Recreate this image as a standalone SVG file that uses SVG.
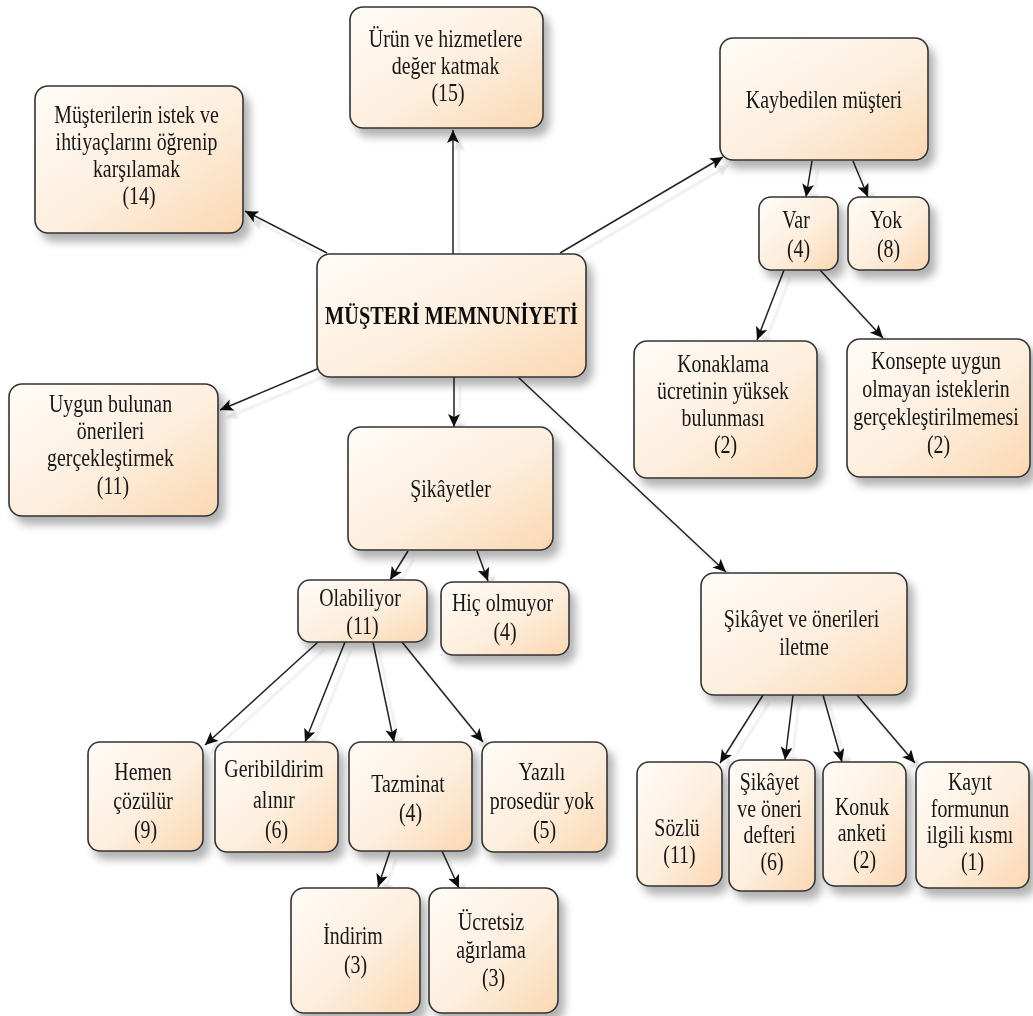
<svg xmlns="http://www.w3.org/2000/svg" width="1033" height="1016" viewBox="0 0 1033 1016">
  <defs>
    <linearGradient id="boxFill" x1="0" y1="0" x2="1" y2="1">
      <stop offset="0" stop-color="#fffcf8"/>
      <stop offset="0.55" stop-color="#fdeedd"/>
      <stop offset="1" stop-color="#fbd7b2"/>
    </linearGradient>
    <filter id="boxShadow" x="-10%" y="-10%" width="130%" height="140%">
      <feGaussianBlur in="SourceAlpha" stdDeviation="4.5"/>
      <feOffset dx="6" dy="8" result="blur"/>
      <feFlood flood-color="#000" flood-opacity="0.3"/>
      <feComposite in2="blur" operator="in"/>
      <feMerge>
        <feMergeNode/>
        <feMergeNode in="SourceGraphic"/>
      </feMerge>
    </filter>
    <filter id="lineShadow" x="-20%" y="-20%" width="140%" height="140%">
      <feOffset in="SourceAlpha" dx="6" dy="8"/>
      <feGaussianBlur stdDeviation="1"/>
      <feComponentTransfer result="sh">
        <feFuncA type="linear" slope="0.12"/>
      </feComponentTransfer>
      <feMerge>
        <feMergeNode in="sh"/>
        <feMergeNode in="SourceGraphic"/>
      </feMerge>
    </filter>
    <marker id="arrow" markerUnits="userSpaceOnUse" markerWidth="14" markerHeight="12" refX="13" refY="6" orient="auto">
      <path d="M0,0 L13,6 L0,12 L3,6 z" fill="#111"/>
    </marker>
  </defs>
  <style>
    .box { fill: url(#boxFill); stroke: #333; stroke-width: 1.6; }
    .node { filter: url(#boxShadow); }
    .t { font-family: "Liberation Serif", "Times New Roman", serif; font-size: 25.5px; fill: #161616; text-anchor: middle; }
    .b { font-weight: bold; font-size: 26px; fill: #0d0d0d; }
    .edge { stroke: #222; stroke-width: 1.5; fill: none; marker-end: url(#arrow); }
  </style>

  <!-- connectors -->
  <g id="connectors" filter="url(#lineShadow)">
    <line class="edge" x1="327" y1="253" x2="245" y2="211"/>
    <line class="edge" x1="453" y1="254" x2="453" y2="130"/>
    <line class="edge" x1="560" y1="253" x2="723" y2="157"/>
    <line class="edge" x1="322" y1="367" x2="220" y2="410"/>
    <line class="edge" x1="454" y1="377" x2="454" y2="427"/>
    <line class="edge" x1="518" y1="377" x2="726" y2="572"/>
    <line class="edge" x1="812" y1="161" x2="806" y2="197"/>
    <line class="edge" x1="853" y1="161" x2="868" y2="197"/>
    <line class="edge" x1="784" y1="270" x2="757" y2="340"/>
    <line class="edge" x1="820" y1="270" x2="883" y2="338"/>
    <line class="edge" x1="408" y1="551" x2="390" y2="580"/>
    <line class="edge" x1="477" y1="551" x2="488" y2="581"/>
    <line class="edge" x1="318" y1="642" x2="205" y2="745"/>
    <line class="edge" x1="345" y1="642" x2="305" y2="742"/>
    <line class="edge" x1="373" y1="642" x2="394" y2="742"/>
    <line class="edge" x1="402" y1="642" x2="483" y2="742"/>
    <line class="edge" x1="390" y1="851" x2="378" y2="887"/>
    <line class="edge" x1="442" y1="851" x2="459" y2="888"/>
    <line class="edge" x1="763" y1="695" x2="720" y2="763"/>
    <line class="edge" x1="793" y1="695" x2="785" y2="760"/>
    <line class="edge" x1="823" y1="695" x2="842" y2="762"/>
    <line class="edge" x1="857" y1="695" x2="915" y2="763"/>
  </g>

  <!-- root -->
  <g id="n-satisfaction" class="node">
    <rect class="box" x="317" y="254" width="269" height="123" rx="13"/>
    <text class="t b" transform="translate(451.5 0) scale(0.78 1)" x="0" y="324">MÜŞTERİ MEMNUNİYETİ</text>
  </g>

  <g id="n-needs" class="node">
    <rect class="box" x="35" y="86" width="208" height="147" rx="13"/>
    <text class="t" transform="translate(139 0) scale(0.78 1)">
      <tspan x="0" y="123">Müşterilerin istek ve</tspan>
      <tspan x="0" y="150">ihtiyaçlarını öğrenip</tspan>
      <tspan x="0" y="177">karşılamak</tspan>
      <tspan x="0" y="204">(14)</tspan>
    </text>
  </g>

  <g id="n-value" class="node">
    <rect class="box" x="350" y="7" width="193" height="121" rx="13"/>
    <text class="t" transform="translate(448 0) scale(0.78 1)">
      <tspan x="0" y="47">Ürün ve hizmetlere</tspan>
      <tspan x="0" y="74">değer katmak</tspan>
      <tspan x="0" y="101">(15)</tspan>
    </text>
  </g>

  <g id="n-lost" class="node">
    <rect class="box" x="720" y="38" width="208" height="122" rx="13"/>
    <text class="t" transform="translate(824 0) scale(0.78 1)" x="0" y="108">Kaybedilen müşteri</text>
  </g>

  <g id="n-var" class="node">
    <rect class="box" x="759" y="197" width="79" height="73" rx="12"/>
    <text class="t" transform="translate(798.5 0) scale(0.78 1)">
      <tspan x="0" y="228">Var</tspan>
      <tspan x="0" y="257">(4)</tspan>
    </text>
  </g>

  <g id="n-yok" class="node">
    <rect class="box" x="848" y="197" width="81" height="73" rx="12"/>
    <text class="t" transform="translate(888.5 0) scale(0.78 1)">
      <tspan x="0" y="228">Yok</tspan>
      <tspan x="0" y="257">(8)</tspan>
    </text>
  </g>

  <g id="n-price" class="node">
    <rect class="box" x="634" y="341" width="183" height="137" rx="13"/>
    <text class="t" transform="translate(725.5 0) scale(0.78 1)">
      <tspan x="0" y="372">Konaklama</tspan>
      <tspan x="0" y="399">ücretinin yüksek</tspan>
      <tspan x="0" y="426">bulunması</tspan>
      <tspan x="0" y="453">(2)</tspan>
    </text>
  </g>

  <g id="n-concept" class="node">
    <rect class="box" x="847" y="339" width="183" height="138" rx="13"/>
    <text class="t" transform="translate(938.5 0) scale(0.78 1)">
      <tspan x="0" y="369">Konsepte uygun</tspan>
      <tspan x="0" y="397">olmayan isteklerin</tspan>
      <tspan x="0" y="425">gerçekleştirilmemesi</tspan>
      <tspan x="0" y="453">(2)</tspan>
    </text>
  </g>

  <g id="n-suggestions" class="node">
    <rect class="box" x="9" y="384" width="209" height="132" rx="13"/>
    <text class="t" transform="translate(113 0) scale(0.78 1)">
      <tspan x="0" y="412">Uygun bulunan</tspan>
      <tspan x="0" y="439">önerileri</tspan>
      <tspan x="0" y="466">gerçekleştirmek</tspan>
      <tspan x="0" y="494">(11)</tspan>
    </text>
  </g>

  <g id="n-complaints" class="node">
    <rect class="box" x="348" y="427" width="205" height="123" rx="13"/>
    <text class="t" transform="translate(450.5 0) scale(0.78 1)" x="0" y="497">Şikâyetler</text>
  </g>

  <g id="n-possible" class="node">
    <rect class="box" x="298" y="580" width="129" height="62" rx="12"/>
    <text class="t" transform="translate(362.5 0) scale(0.78 1)">
      <tspan x="0" y="606">Olabiliyor</tspan>
      <tspan x="0" y="634">(11)</tspan>
    </text>
  </g>

  <g id="n-never" class="node">
    <rect class="box" x="441" y="582" width="128" height="73" rx="12"/>
    <text class="t" transform="translate(505 0) scale(0.78 1)">
      <tspan x="0" y="611">Hiç olmuyor</tspan>
      <tspan x="0" y="640">(4)</tspan>
    </text>
  </g>

  <g id="n-solved" class="node">
    <rect class="box" x="88" y="742" width="115" height="109" rx="12"/>
    <text class="t" transform="translate(145.5 0) scale(0.78 1)">
      <tspan x="0" y="780">Hemen</tspan>
      <tspan x="0" y="809">çözülür</tspan>
      <tspan x="0" y="838">(9)</tspan>
    </text>
  </g>

  <g id="n-feedback" class="node">
    <rect class="box" x="215" y="742" width="123" height="110" rx="12"/>
    <text class="t" transform="translate(276.5 0) scale(0.78 1)">
      <tspan x="0" y="777">Geribildirim</tspan>
      <tspan x="0" y="808">alınır</tspan>
      <tspan x="0" y="838">(6)</tspan>
    </text>
  </g>

  <g id="n-compensation" class="node">
    <rect class="box" x="349" y="742" width="123" height="109" rx="12"/>
    <text class="t" transform="translate(410.5 0) scale(0.78 1)">
      <tspan x="0" y="792">Tazminat</tspan>
      <tspan x="0" y="821">(4)</tspan>
    </text>
  </g>

  <g id="n-written" class="node">
    <rect class="box" x="482" y="742" width="125" height="110" rx="12"/>
    <text class="t" transform="translate(544.5 0) scale(0.78 1)">
      <tspan x="0" y="780">Yazılı</tspan>
      <tspan x="0" y="809">prosedür yok</tspan>
      <tspan x="0" y="838">(5)</tspan>
    </text>
  </g>

  <g id="n-discount" class="node">
    <rect class="box" x="291" y="888" width="129" height="125" rx="13"/>
    <text class="t" transform="translate(355.5 0) scale(0.78 1)">
      <tspan x="0" y="944">İndirim</tspan>
      <tspan x="0" y="973">(3)</tspan>
    </text>
  </g>

  <g id="n-free" class="node">
    <rect class="box" x="429" y="888" width="129" height="125" rx="13"/>
    <text class="t" transform="translate(493.5 0) scale(0.78 1)">
      <tspan x="0" y="930">Ücretsiz</tspan>
      <tspan x="0" y="958">ağırlama</tspan>
      <tspan x="0" y="986">(3)</tspan>
    </text>
  </g>

  <g id="n-channels" class="node">
    <rect class="box" x="701" y="573" width="206" height="122" rx="13"/>
    <text class="t" transform="translate(804 0) scale(0.78 1)">
      <tspan x="0" y="627">Şikâyet ve önerileri</tspan>
      <tspan x="0" y="655">iletme</tspan>
    </text>
  </g>

  <g id="n-oral" class="node">
    <rect class="box" x="637" y="762" width="85" height="124" rx="12"/>
    <text class="t" transform="translate(679.5 0) scale(0.78 1)">
      <tspan x="0" y="836">Sözlü</tspan>
      <tspan x="0" y="863">(11)</tspan>
    </text>
  </g>

  <g id="n-book" class="node">
    <rect class="box" x="729" y="760" width="86" height="131" rx="12"/>
    <text class="t" transform="translate(772 0) scale(0.78 1)">
      <tspan x="0" y="790">Şikâyet</tspan>
      <tspan x="0" y="817">ve öneri</tspan>
      <tspan x="0" y="843">defteri</tspan>
      <tspan x="0" y="870">(6)</tspan>
    </text>
  </g>

  <g id="n-survey" class="node">
    <rect class="box" x="823" y="762" width="83" height="124" rx="12"/>
    <text class="t" transform="translate(864.5 0) scale(0.78 1)">
      <tspan x="0" y="815">Konuk</tspan>
      <tspan x="0" y="841">anketi</tspan>
      <tspan x="0" y="868">(2)</tspan>
    </text>
  </g>

  <g id="n-form" class="node">
    <rect class="box" x="916" y="762" width="113" height="126" rx="12"/>
    <text class="t" transform="translate(972.5 0) scale(0.78 1)">
      <tspan x="0" y="790">Kayıt</tspan>
      <tspan x="0" y="817">formunun</tspan>
      <tspan x="0" y="843">ilgili kısmı</tspan>
      <tspan x="0" y="870">(1)</tspan>
    </text>
  </g>
</svg>
